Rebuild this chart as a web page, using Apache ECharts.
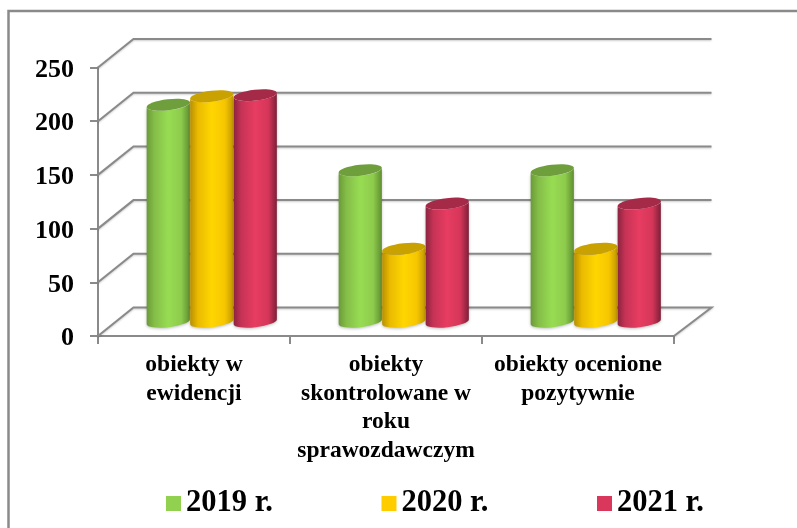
<!DOCTYPE html>
<html>
<head>
<meta charset="utf-8">
<style>
  html, body { margin: 0; padding: 0; background: #fff; }
  #chart { width: 797px; height: 528px; }
</style>
<script src="https://cdn.jsdelivr.net/npm/echarts@6/dist/echarts.min.js"></script>
</head>
<body>
<div id="chart"></div>
<script>
const categories = ['obiekty w\newidencji', 'obiekty\nskontrolowane w\nroku\nsprawozdawczym', 'obiekty ocenione\npozytywnie']
const years = ['2019 r.', '2020 r.', '2021 r.']
const values2019 = [202, 141, 141]
const values2020 = [210, 68, 68]
const values2021 = [211, 110, 110]
const yTicks = [0, 50, 100, 150, 200, 250]

const FONT = '"Liberation Serif", "Times New Roman", serif'
const LINE = '#8a8a8a'
const DEPTH_X = 35.5 // przesuniecie tylnej sciany
const DEPTH_Y = -28.5
const BACK_EXTRA = 2
const BAR_RATIO = 0.2265
const TILT = -6.5 * Math.PI / 180

const palette = [
  { legend: '#92d050', top: '#6f9f3c', body: [[0, '#6a9a38'], [0.18, '#84bd48'], [0.5, '#98dc53'], [0.8, '#8dcb4c'], [1, '#5f8d32']] },
  { legend: '#ffcc00', top: '#c9a100', body: [[0, '#b88f00'], [0.18, '#e9ba00'], [0.5, '#ffd600'], [0.8, '#f6c600'], [1, '#c29700']] },
  { legend: '#d9375b', top: '#a52a48', body: [[0, '#8a2340'], [0.18, '#c63355'], [0.5, '#e83c62'], [0.8, '#d53659'], [1, '#7d1f38']] },
]

// siatka 3D: skos na bocznej scianie i linia na tylnej
function renderWalls(params, api) {
  const v = api.value(0)
  const front = api.coord([0, v])
  const x0 = params.coordSys.x
  const x1 = x0 + params.coordSys.width
  const y = front[1]
  const points = [[x0, y], [x0 + DEPTH_X, y + DEPTH_Y], [x1 + DEPTH_X + BACK_EXTRA, y + DEPTH_Y]]
  if (v === 0) points.push([x1, y])
  return {
    type: 'polyline',
    shape: { points: points },
    style: { fill: 'none', stroke: LINE, lineWidth: 2, shadowColor: 'rgba(0,0,0,0.2)', shadowBlur: 2, shadowOffsetY: 1 },
    silent: true,
  }
}

function makeRenderBar(seriesIndex) {
  return function (params, api) {
    const band = api.size([1, 0])[0]
    const w = band * BAR_RATIO
    const rx = w / 2
    const ry = 5.5
    const dx = (seriesIndex - 1) * w + DEPTH_X / 2
    const top = api.coord([api.value(0), api.value(1)])
    const base = api.coord([api.value(0), 0])
    const cx = top[0] + dx
    const yTop = top[1] + DEPTH_Y / 2
    const yBase = base[1] + DEPTH_Y / 2
    const ex = rx * Math.cos(TILT)
    const ey = rx * Math.sin(TILT)
    const deg = TILT * 180 / Math.PI
    const d = 'M' + (cx - ex) + ' ' + (yTop - ey)
      + 'L' + (cx - ex) + ' ' + (yBase - ey)
      + 'A' + rx + ' ' + ry + ' ' + deg + ' 0 0 ' + (cx + ex) + ' ' + (yBase + ey)
      + 'L' + (cx + ex) + ' ' + (yTop + ey)
      + 'A' + rx + ' ' + ry + ' ' + deg + ' 0 1 ' + (cx - ex) + ' ' + (yTop - ey) + 'Z'
    const colors = palette[seriesIndex]
    return {
      type: 'group',
      children: [
        {
          type: 'path',
          shape: { pathData: d },
          style: {
            fill: new echarts.graphic.LinearGradient(0, 0, 1, 0, colors.body.map(c => ({ offset: c[0], color: c[1] }))),
            shadowColor: 'rgba(0,0,0,0.25)',
            shadowBlur: 3,
            shadowOffsetY: 1,
          },
        },
        {
          type: 'ellipse',
          x: cx,
          y: yTop,
          rotation: -TILT,
          shape: { cx: 0, cy: 0, rx: rx, ry: ry },
          style: { fill: colors.top },
        },
      ],
    }
  }
}

const chart = echarts.init(document.getElementById('chart'), null, { renderer: 'canvas' })

const barData = [values2019, values2020, values2021]

chart.setOption({
  animation: false,
  backgroundColor: '#fff',
  legend: {
    data: years,
    left: 161,
    top: 483,
    itemWidth: 15,
    itemHeight: 15,
    itemGap: 108.5,
    icon: 'rect',
    selectedMode: false,
    textStyle: { fontFamily: FONT, fontWeight: 'bold', fontSize: 30.5, color: '#000' },
  },
  grid: { left: 98, top: 67.5, width: 576, height: 268.5, containLabel: false },
  xAxis: {
    type: 'category',
    data: categories,
    axisLine: { lineStyle: { color: LINE, width: 2 } },
    axisTick: { show: true, length: 8, lineStyle: { color: LINE, width: 2 } },
    axisLabel: {
      interval: 0,
      margin: 15,
      fontFamily: FONT,
      fontWeight: 'bold',
      fontSize: 23.5,
      lineHeight: 28.5,
      color: '#000',
    },
    splitLine: { show: false },
  },
  yAxis: {
    type: 'value',
    min: 0,
    max: 250,
    interval: 50,
    axisLine: { show: true, lineStyle: { color: LINE, width: 2 } },
    axisTick: { show: true, length: 8, lineStyle: { color: LINE, width: 2 } },
    axisLabel: { margin: 24, verticalAlign: 'top', lineHeight: 5, fontFamily: FONT, fontWeight: 'bold', fontSize: 26, color: '#000' },
    splitLine: { show: false },
  },
  graphic: [
    { type: 'polyline', shape: { points: [[8.5, 528], [8.5, 11], [797, 11]] }, style: { fill: 'none', stroke: LINE, lineWidth: 2.5 }, silent: true },
  ],
  series: [
    {
      name: 'walls',
      type: 'custom',
      renderItem: renderWalls,
      data: yTicks.map(v => [v]),
      encode: { y: 0 },
      z: 1,
      silent: true,
    },
  ].concat(years.map((name, i) => ({
    name: name,
    type: 'custom',
    renderItem: makeRenderBar(i),
    itemStyle: { color: palette[i].legend },
    data: barData[i].map((v, c) => [c, v]),
    encode: { x: 0, y: 1 },
    z: 2 + i,
  }))),
})
</script>
</body>
</html>
